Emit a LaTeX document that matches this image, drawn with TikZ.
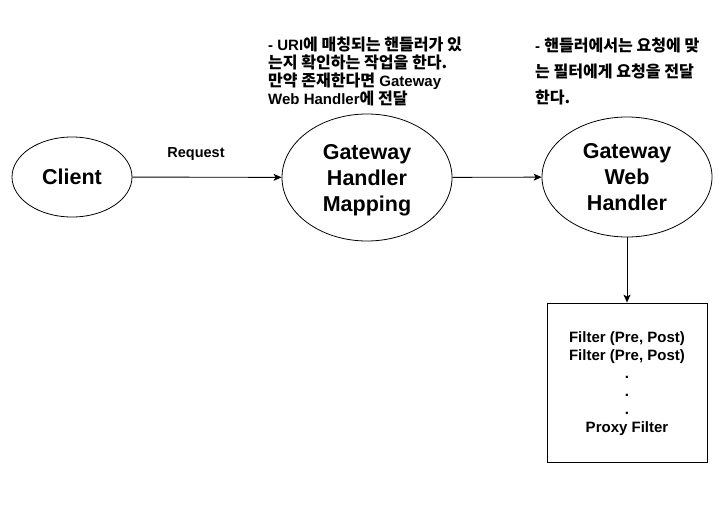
\documentclass[tikz,border=0pt]{standalone}
\usepackage{fontspec}
\setmainfont{Liberation Sans}
\newfontfamily\kr{Noto Sans CJK KR}[Scale=1.07]
\usetikzlibrary{arrows.meta,shapes.geometric}
\newcommand{\K}[1]{{\kr\bfseries #1}}
\tikzset{
  conn/.style={draw=black, line width=0.9pt, -{Stealth[length=8pt,width=7pt,inset=2pt]}},
  bigell/.style={draw=black, line width=0.8pt, ellipse, align=center, inner sep=0pt,
    font=\fontsize{21.5}{26}\selectfont\bfseries},
  note/.style={align=left, inner sep=0pt, anchor=north west, font=\fontsize{15}{18}\selectfont\bfseries},
  filterbox/.style={draw=black, line width=0.8pt, align=center, inner sep=0pt,
    minimum width=160pt, minimum height=159pt, font=\fontsize{15}{18}\selectfont\bfseries},
}
\begin{document}
\begin{tikzpicture}[x=1pt,y=-1pt]
\useasboundingbox (0,0) rectangle (727,508);
\fill[white] (0,0) rectangle (727,508);
\node[bigell, minimum width=120pt, minimum height=80pt] (client) at (72,177) {Client};
\node[bigell, minimum width=170pt, minimum height=127pt] (ghm) at (367,177.5) {Gateway\\Handler\\\raisebox{0pt}[\height][0pt]{Mapping}};
\node[bigell, minimum width=170pt, minimum height=120pt] (gwh) at (627,177) {Gateway\\Web\\Handler};
\node[filterbox] (filters) at (627,382.5) {Filter (Pre, Post)\\Filter (Pre, Post)\\.\\.\\.\\\raisebox{0pt}[\height][0pt]{Proxy Filter}};
\node[note] (note1) at (268,37) {- URI\K{에 매칭되는 핸들러가 있}\\\K{는지 확인하는 작업을 한다.}\\\K{만약 존재한다면} Gateway\\Web Handler\K{에 전달}};
\node[note, font=\fontsize{15}{26}\selectfont\bfseries] (note2) at (535,38) {- \K{핸들러에서는 요청에 맞}\\\K{는 필터에게 요청을 전달}\\\K{한다.}};
\node[font=\fontsize{14.5}{16}\selectfont\bfseries, inner sep=0pt] (req) at (196,154) {Request};
\draw[conn] (client) -- (ghm);
\draw[conn] (ghm) -- (gwh);
\draw[conn] (gwh) -- (filters);
\end{tikzpicture}
\end{document}
